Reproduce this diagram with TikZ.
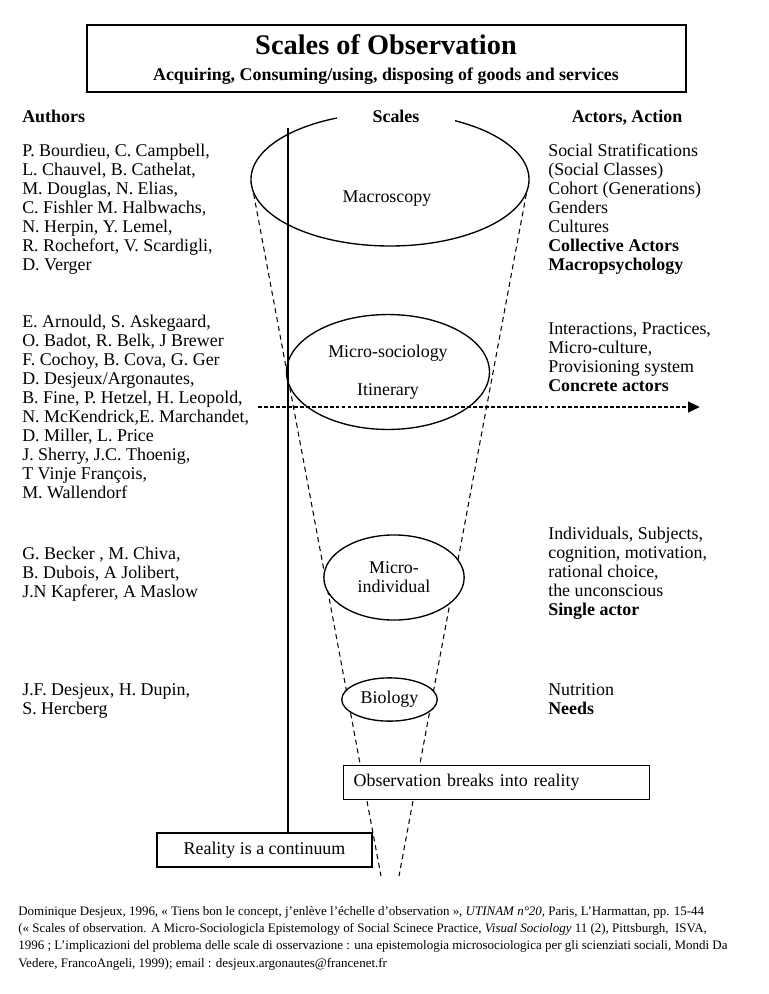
\documentclass[tikz,border=0pt]{standalone}
\usepackage{fontspec}
\setmainfont{Liberation Serif}
\usetikzlibrary{shapes.geometric,arrows.meta}

\tikzset{
  body/.style={font=\fontsize{12}{12.7}\selectfont, inner sep=0pt, align=left, anchor=north west},
  head/.style={font=\fontsize{12}{12.7}\selectfont\bfseries, inner sep=0pt, anchor=base},
  scaleoval/.style={draw, ellipse, fill=white, line width=0.9pt, inner sep=0pt,
    font=\fontsize{12}{12.7}\selectfont, align=center},
  cone/.style={dash pattern=on 3.4pt off 2.6pt, line width=0.7pt},
  framed/.style={draw, fill=white, line width=0.9pt, font=\fontsize{12}{12.7}\selectfont,
    minimum height=22.8pt}
}

\begin{document}
\begin{tikzpicture}[x=0.67pt, y=-0.67pt]
  \useasboundingbox (0,0) rectangle (768,994);

  % Title box
  \node[framed, minimum width=401.3pt, minimum height=44.9pt] (titlebox) at (386.5,58.5) {};
  \node[font=\fontsize{19}{20}\selectfont\bfseries, inner sep=0pt, anchor=base] (title) at (386,54) {Scales of Observation};
  \node[head] (subtitle) at (386,80) {Acquiring, Consuming/using, disposing of goods and services};

  % Column heads
  \node[head, anchor=base west] (authors) at (22,122) {Authors};
  \node[head] (actors) at (627,122) {Actors, Action};

  % Cone of observation
  \coordinate (coneTL) at (252,185);
  \coordinate (coneBL) at (381,876);
  \coordinate (coneTR) at (528,185);
  \coordinate (coneBR) at (399,876);
  \draw[cone] (coneTL) -- (coneBL);
  \draw[cone] (coneTR) -- (coneBR);

  % Scales
  \node[scaleoval, minimum width=186.3pt, minimum height=89.1pt] (macro) at (390,179.5) {};
  \node[body, anchor=center] (macrotext) at (387,199) {Macroscopy};
  \node[head, fill=white, minimum width=79pt, inner ysep=3pt] (scales) at (396,122) {Scales};
  \node[scaleoval, minimum width=136pt, minimum height=77pt] (microsoc) at (388,372) {Micro-sociology\\[13pt]Itinerary};
  \node[scaleoval, minimum width=94pt, minimum height=57pt] (microind) at (394,577.5) {Micro-\\individual};
  \node[scaleoval, minimum width=64pt, minimum height=29pt] (bio) at (389.5,699.5) {Biology};

  % Boxes at the bottom
  \node[framed, anchor=north west, text width=191.6pt, inner xsep=6.7pt, align=left] (breaks) at (343,765) {Observation breaks into reality};
  \node[framed, minimum width=144pt] (reality) at (264.5,850) {Reality is a continuum};

  % Continuum line
  \coordinate (vtop) at (288,128);
  \draw[line width=0.9pt] (vtop) -- (vtop |- reality.north);

  % Itinerary arrow
  \coordinate (arrowS) at (258,407);
  \coordinate (arrowE) at (700,407);
  \draw[line width=1.8pt, dash pattern=on 2.6pt off 1.4pt, -{Triangle[length=8pt,width=7pt]}] (arrowS) -- (arrowE);

  % Authors
  \node[body] (auth1) at (22,143.8) {P. Bourdieu, C. Campbell,\\L. Chauvel, B. Cathelat,\\M. Douglas, N. Elias,\\C. Fishler M. Halbwachs,\\N. Herpin, Y. Lemel,\\R. Rochefort, V. Scardigli,\\D. Verger};
  \node[body] (auth2) at (22,314.8) {E. Arnould, S. Askegaard,\\O. Badot, R. Belk, J Brewer\\F. Cochoy, B. Cova, G. Ger\\D. Desjeux/Argonautes,\\B. Fine, P. Hetzel, H. Leopold,\\N. McKendrick,E. Marchandet,\\D. Miller, L. Price\\J. Sherry, J.C. Thoenig,\\T Vinje François,\\M. Wallendorf};
  \node[body] (auth3) at (22,546.8) {G. Becker , M. Chiva,\\B. Dubois, A Jolibert,\\J.N Kapferer, A Maslow};
  \node[body] (auth4) at (22,683.8) {J.F. Desjeux, H. Dupin,\\S. Hercberg};

  % Actors, action
  \node[body] (act1) at (548,143.8) {Social Stratifications\\(Social Classes)\\Cohort (Generations)\\Genders\\Cultures\\\textbf{Collective Actors}\\\textbf{Macropsychology}};
  \node[body] (act2) at (548,322.8) {Interactions, Practices,\\Micro-culture,\\Provisioning system\\\textbf{Concrete actors}};
  \node[body] (act3) at (548,526.8) {Individuals, Subjects,\\cognition, motivation,\\rational choice,\\the unconscious\\\textbf{Single actor}};
  \node[body] (act4) at (548,683.8) {Nutrition\\\textbf{Needs}};

  % Source
  \node[body, font=\fontsize{8.7}{11.6}\selectfont] (source) at (18,906) {Dominique Desjeux, 1996, « Tiens bon le concept, j’enlève l’échelle d’observation », \textit{UTINAM n°20}, Paris, L’Harmattan, pp. 15-44\\(« Scales of observation. A Micro-Sociologicla Epistemology of Social Scinece Practice, \textit{Visual Sociology} 11 (2), Pittsburgh,\ \ ISVA,\\1996 ; L’implicazioni del problema delle scale di osservazione : una epistemologia microsociologica per gli scienziati sociali, Mondi Da\\Vedere, FrancoAngeli, 1999); email : desjeux.argonautes@francenet.fr};
\end{tikzpicture}
\end{document}
